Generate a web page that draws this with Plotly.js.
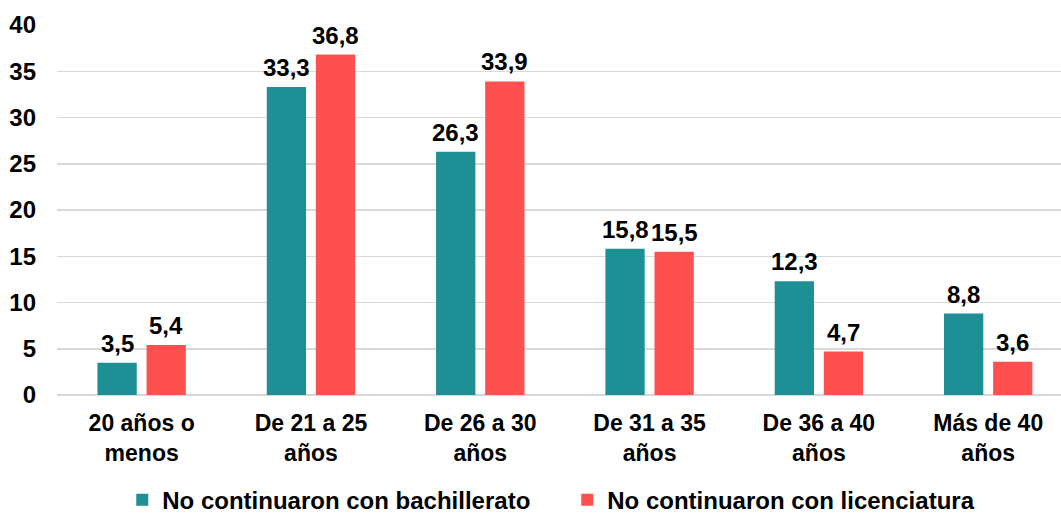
<!DOCTYPE html>
<html>
<head>
<meta charset="utf-8">
<script src="https://cdn.plot.ly/plotly-3.0.1.min.js"></script>
<style>html,body{margin:0;padding:0;background:#fff;}#chart{width:1061px;height:513px;}</style>
</head>
<body>
<div id="chart"></div>
<script>
var categories = ["20 años o<br>menos", "De 21 a 25<br>años", "De 26 a 30<br>años", "De 31 a 35<br>años", "De 36 a 40<br>años", "Más de 40<br>años"];
var seriesNames = ["No continuaron con bachillerato", "No continuaron con licenciatura"];
var bachillerato = [3.5, 33.3, 26.3, 15.8, 12.3, 8.8];
var licenciatura = [5.4, 36.8, 33.9, 15.5, 4.7, 3.6];
var yTicks = [0, 5, 10, 15, 20, 25, 30, 35, 40];

var FONT = "Liberation Sans, Arial, sans-serif";
var BARGAP = 0.42;
function fmt(v){ return v.toFixed(1).replace('.', ','); }
var xs = categories.map(function(_, i){ return i; });

function trace(name, vals, color){
  return {
    type: 'bar', name: name, x: xs, y: vals,
    marker: {color: color},
    hoverinfo: 'none'
  };
}

var data = [
  trace(seriesNames[0], bachillerato, '#1e8f95'),
  trace(seriesNames[1], licenciatura, '#ff5050')
];

// value labels above each bar, placed at data coordinates
var half = (1 - BARGAP) / 4;
var annotations = [];
[bachillerato, licenciatura].forEach(function(vals, s){
  vals.forEach(function(v, i){
    annotations.push({
      x: i + (s === 0 ? -half : half), y: v, xref: 'x', yref: 'y',
      text: fmt(v), showarrow: false, yanchor: 'bottom', yshift: 4,
      font: {family: FONT, size: 24, color: '#000', weight: 'bold'}
    });
  });
});

var layout = {
  width: 1061, height: 513,
  margin: {l: 57, r: 0, t: 25, b: 118, autoexpand: false},
  paper_bgcolor: '#fff', plot_bgcolor: '#fff',
  barmode: 'group', bargap: BARGAP, bargroupgap: 0.2,
  separators: ',.',
  font: {family: FONT, color: '#000'},
  annotations: annotations,
  xaxis: {
    range: [-0.5, 5.43], tickmode: 'array', tickvals: xs, ticktext: categories,
    tickfont: {family: FONT, size: 23, color: '#000', weight: 'bold'},
    showgrid: false, zeroline: false, showline: false, ticks: '',
    ticklabelstandoff: 12, fixedrange: true
  },
  yaxis: {
    range: [0, 40], tickmode: 'array', tickvals: yTicks,
    ticktext: yTicks.map(String),
    tickfont: {family: FONT, size: 24, color: '#000', weight: 'bold'},
    showgrid: true, gridcolor: '#d9d9d9', gridwidth: 1.5,
    zeroline: true, zerolinecolor: '#d9d9d9', zerolinewidth: 1.5,
    showline: false, ticks: '', ticklabelstandoff: 20, fixedrange: true
  },
  showlegend: true,
  legend: {
    orientation: 'h', x: 0.065, xanchor: 'left', y: -0.284, yanchor: 'middle',
    font: {family: FONT, size: 24, color: '#000', weight: 'bold'},
    itemwidth: 30, entrywidth: 400, entrywidthmode: 'pixels',
    tracegroupgap: 0, bgcolor: 'rgba(0,0,0,0)'
  }
};

Plotly.newPlot('chart', data, layout, {displayModeBar: false, staticPlot: true});
</script>
</body>
</html>
